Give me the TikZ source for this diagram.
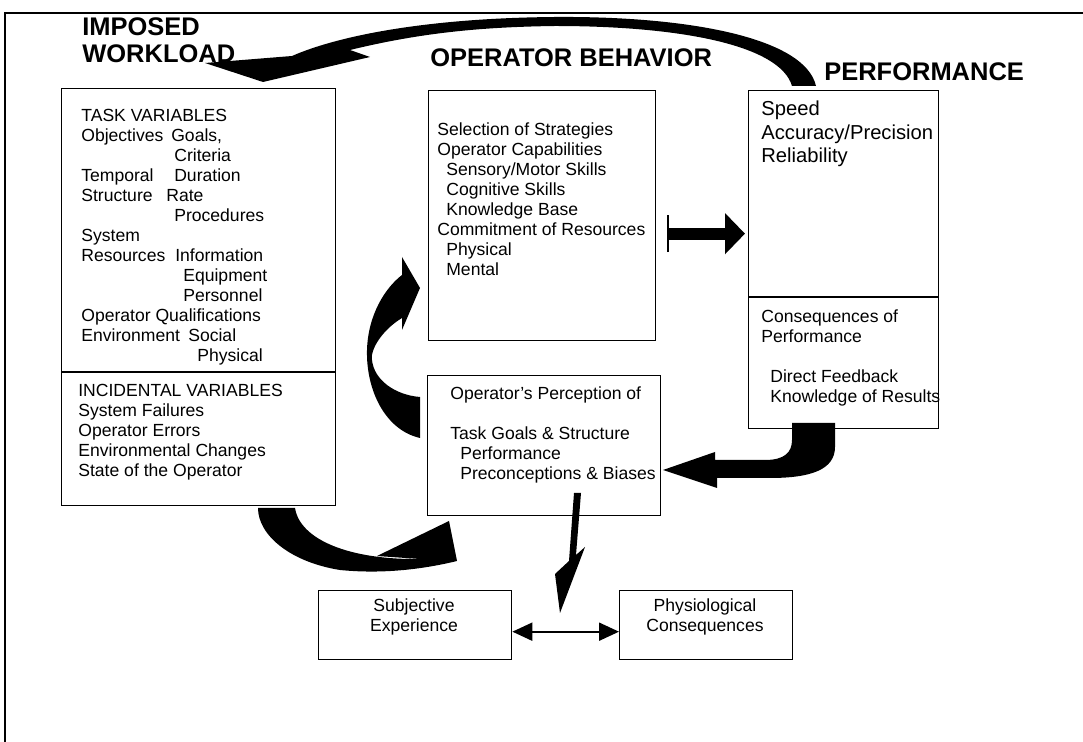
\documentclass[tikz,border=0pt]{standalone}
\usepackage{fontspec}
\setmainfont{Liberation Sans}
\usetikzlibrary{positioning,arrows.meta}

\begin{document}
\begin{tikzpicture}[x=0.02cm,y=-0.02cm,
  box/.style={rectangle, draw, line width=0.8pt, inner sep=0pt, anchor=north west},
  txt/.style={anchor=north west, align=left, inner sep=0pt, font=\fontsize{10}{11.4}\selectfont},
  title/.style={anchor=west, inner sep=0pt, font=\fontsize{14.5}{16}\selectfont\bfseries},
  blk/.style={fill=black, draw=none}]

        \useasboundingbox (0,0) rectangle (1083,742);
        \draw[line width=1.6pt] (5,742) -- (5,13) -- (1083,13);

        % titles
        \node[title] (imposed) at (82,27) {IMPOSED};
        \node[title] (workload) at (82,54) {WORKLOAD};
        \node[title] (behavior) at (430,58) {OPERATOR BEHAVIOR};
        \node[title] (perform) at (824,72) {PERFORMANCE};

        % boxes
        \node[box, minimum width=5.48cm, minimum height=8.34cm] (task) at (61,88) {};
        \node[box, minimum width=4.54cm, minimum height=5cm] (op) at (428,90) {};
        \node[box, minimum width=3.8cm, minimum height=6.76cm] (perf) at (748,90) {};
        \node[box, minimum width=4.66cm, minimum height=2.8cm] (perc) at (427,375) {};
        \node[box, minimum width=3.86cm, minimum height=1.38cm] (subj) at (318,590) {};
        \node[box, minimum width=3.46cm, minimum height=1.38cm] (phys) at (619,590) {};
        \draw[line width=0.8pt] (task.west |- 0,372) -- (task.east |- 0,372);
        \draw[line width=0.8pt] (perf.west |- 0,297) -- (perf.east |- 0,297);

        % texts
        \node[txt] (taskvars) at (81,109) {TASK VARIABLES\\
          \makebox[1.8cm][l]{Objectives}Goals,\\
          \hspace*{1.86cm}Criteria\\
          \makebox[1.86cm][l]{Temporal}Duration\\
          \makebox[1.7cm][l]{Structure}Rate\\
          \hspace*{1.86cm}Procedures\\
          System\\
          \makebox[1.88cm][l]{Resources}Information\\
          \hspace*{2.04cm}Equipment\\
          \hspace*{2.04cm}Personnel\\
          Operator Qualifications\\
          \makebox[2.14cm][l]{Environment}Social\\
          \hspace*{2.32cm}Physical};
        \node[txt] (incvars) at (78,384) {INCIDENTAL VARIABLES\\System Failures\\Operator Errors\\
          Environmental Changes\\State of the Operator};
        \node[txt] (opvars) at (437,122) {Selection of Strategies\\Operator Capabilities\\
          \hspace*{0.18cm}Sensory/Motor Skills\\\hspace*{0.18cm}Cognitive Skills\\
          \hspace*{0.18cm}Knowledge Base\\Commitment of Resources\\
          \hspace*{0.18cm}Physical\\\hspace*{0.18cm}Mental};
        \node[txt, font=\fontsize{11.5}{13.3}\selectfont] (perfvars) at (761,101) {Speed\\Accuracy/Precision\\Reliability};
        \node[txt] (conseq) at (761,309) {Consequences of\\Performance\\[11.4pt]
          \hspace*{0.18cm}Direct Feedback\\\hspace*{0.18cm}Knowledge of Results};
        \node[txt] (perctext) at (450,386) {Operator's Perception of\\[11.4pt]Task Goals \& Structure\\
          \hspace*{0.2cm}Performance\\\hspace*{0.2cm}Preconceptions \& Biases};
        \node[txt, anchor=center, align=center] (subjtext) at (414,617) {Subjective\\Experience};
        \node[txt, anchor=center, align=center] (phystext) at (705,617) {Physiological\\Consequences};

        % block arrows
        \fill[blk] (816,86) .. controls (805,38) and (690,16) .. (555,17) .. controls (430,18) and (340,35) .. (292,56)
          -- (205,63) -- (263,82) -- (370,57) -- (350,50) .. controls (420,33) and (480,27) .. (555,26)
          .. controls (680,26) and (780,45) .. (792,86) -- cycle;
        \fill[blk] (402,257) -- (420,288) -- (402,330) -- (402,318) .. controls (382,330) and (370,350) .. (372,360)
          .. controls (374,380) and (395,395) .. (420,397) -- (420,438) .. controls (385,430) and (366,390) .. (367,350)
          .. controls (368,315) and (385,288) .. (402,275) -- cycle;
        \fill[blk] (295,508) .. controls (300,540) and (350,560) .. (420,559) -- (377,556) -- (449,521) -- (457,561)
          .. controls (420,570) and (380,574) .. (340,570) .. controls (290,562) and (258,535) .. (258,508) -- cycle;
        \fill[blk] (792,423) -- (835,423) -- (835,447) .. controls (835,470) and (810,478) .. (770,478) -- (717,478)
          -- (717,488) -- (663,470) -- (715,452) -- (715,460) -- (765,460) .. controls (785,460) and (792,452) .. (792,440) -- cycle;
        \fill[blk] (574,493) -- (581,493) -- (576,555) -- (585,547) -- (560,613) -- (555,574) -- (569,561) -- cycle;

        % connectors
        \coordinate (oparr) at ([xshift=0.22cm, yshift=-0.36cm]op.east);
        \draw[line width=0.24cm, {Bar[width=0.74cm, line width=1.2pt]}-{Triangle[length=0.4cm, width=0.8cm]}]
          (oparr) -- ([xshift=-0.06cm]oparr -| perf.west);
        \coordinate (dbl) at ([yshift=-0.13cm]subj.east);
        \draw[line width=1.2pt, {Triangle[length=0.4cm, width=0.36cm]}-{Triangle[length=0.4cm, width=0.36cm]}]
          (dbl) -- (dbl -| phys.west);

\end{tikzpicture}
\end{document}
